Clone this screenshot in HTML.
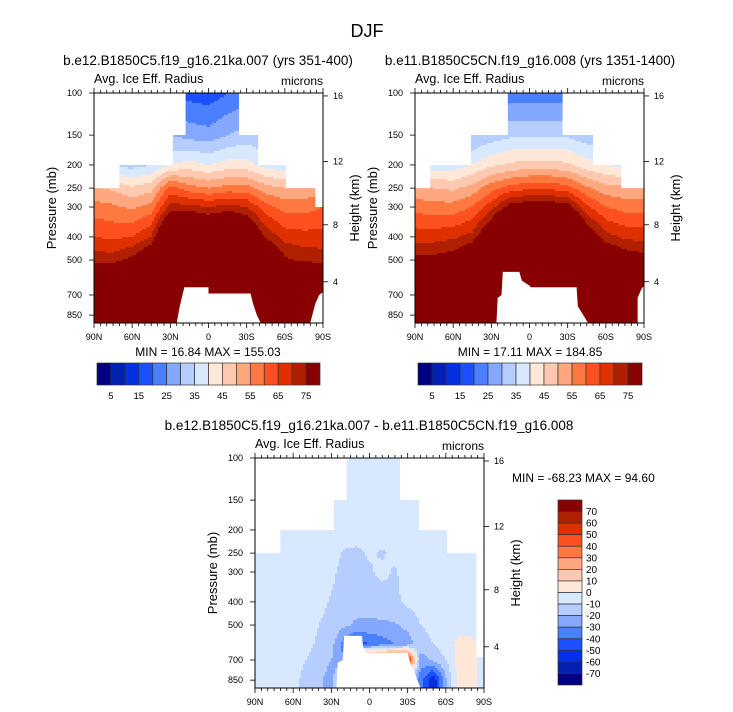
<!DOCTYPE html>
<html><head><meta charset="utf-8">
<style>
html,body{margin:0;padding:0;background:#fff;}
svg{display:block;font-family:"Liberation Sans",Arial,sans-serif;}
</style></head>
<body>
<svg id="fig" width="733" height="712" viewBox="0 0 733 712">
<text x="367" y="37" font-size="18" text-anchor="middle">DJF</text>
</svg>
<script>
// ---------- data ----------
const colors=["#000080","#0020b0","#0030e0","#1a50ff","#4a80ff","#85a8ff","#b5cdff","#d8e8ff","#ffe8d8","#ffc8b0","#ffa880","#ff7840","#ff5020","#e03000","#b02000","#880000"];
const boundsAbs=[5,10,15,20,25,30,35,40,45,50,55,60,65,70,75];
const boundsDiff=[-70,-60,-50,-40,-30,-20,-10,0,10,20,30,40,50,60,70];
const absTickLabels=["5","15","25","35","45","55","65","75"];
const diffTickLabels=["70","60","50","40","30","20","10","0","-10","-20","-30","-40","-50","-60","-70"];
const latTickLabels=["90N","60N","30N","0","30S","60S","90S"];
const latTicks=[90,60,30,0,-30,-60,-90];
const pTicks=[100,150,200,250,300,400,500,700,850];
const hTicks=[4,8,12,16];

const lats15=[90,75,60,45,30,15,0,-15,-30,-45,-60,-75,-90];
const levels1=[100,150,200,250,300,400,500,700,850];
const vals1=[
[18,26,35,51,57,65,73,100,120],
[18,26,34,49,56,64,73,100,120],
[18,26,33,46,54,65,77,110,120],
[18,28,35,48,57,70,85,120,130],
[20,30,40,62,72,95,120,130,130],
[18,28,42,57,72,95,120,130,130],
[17,27,40,55,70,90,120,130,130],
[20,30,42,57,72,95,120,130,130],
[22,32,42,57,70,88,110,130,130],
[20,30,38,52,62,74,90,120,130],
[18,28,36,50,58,68,76,110,120],
[18,28,36,51,58,67,74,100,120],
[18,28,36,52,60,67,73,100,120]];
const vals2=[
[18,28,38,51,58,68,77,110,120],
[18,28,37,50,57,68,77,110,120],
[18,28,37,49,57,69,79,110,120],
[18,30,40,52,60,72,85,120,130],
[20,32,44,58,68,85,110,130,130],
[22,34,46,62,78,110,130,130,130],
[22,34,47,64,80,115,130,130,130],
[22,34,47,64,80,115,130,130,130],
[22,34,46,62,78,105,130,130,130],
[20,32,42,56,66,82,100,130,130],
[20,30,40,52,60,72,85,120,130],
[20,30,38,51,58,69,80,115,120],
[20,30,38,51,58,68,78,110,120]];
const lats10=[90,80,70,60,50,40,30,20,10,0,-10,-20,-30,-40,-50,-60,-70,-80,-90];
const levels3=[100,150,200,250,300,400,500,600,700,850];
const vals3=[
[-5,-5,-5,-5,-5,-5,-5,-5,-5,-5],
[-5,-5,-5,-5,-5,-5,-5,-5,-5,-5],
[-5,-5,-5,-5,-5,-5,-5,-5,-5,-5],
[-5,-5,-5,-5,-5,-5,-5,-6,-7,-8],
[-5,-5,-5,-5,-5,-5,-7,-8,-10,-12],
[-5,-5,-5,-5,-6,-7,-10,-11,-14,-18],
[-5,-5,-5,-6,-8,-11,-13,-16,-20,-25],
[-5,-5,-5,-11,-13,-14,-18,-35,-30,3],
[-5,-5,-5,-12,-13,-15,-22,-45,60,-5],
[-5,-5,-5,-9,-11,-15,-22,-40,65,-5],
[-5,-5,-5,-11,-8,-14,-22,-35,65,-5],
[-5,-5,-5,-8,-11,-12,-21,-30,65,-5],
[-5,-5,-5,-5,-6,-8,-17,-25,60,-20],
[-5,-5,-5,-5,-5,-6,-10,-15,-25,-35],
[-5,-5,-5,-5,-5,-5,-7,-10,-18,-60],
[-5,-5,-5,-5,-5,-5,-5,-5,-10,-22],
[-5,-5,-5,-5,-5,-5,-5,3,4,4],
[-5,-5,-5,-5,-5,-5,-5,3,4,3],
[-5,-5,-5,-5,-5,-5,-5,-5,-5,-5]];
const mask1Edges=[90,70,28,18,-24,-39,-61,-84,-90], mask1Top=[250,200,150,100,150,200,250,300];
const mask2Edges=[90,78,46,17,-26,-50,-72,-90], mask2Top=[250,200,150,100,150,200,250];
const mask3Edges=[90,70,28,18,-24,-39,-61,-84,-90], mask3Top=[250,200,150,100,150,200,250,680];
const hole1Lat=[25,23,21,19,0,0,-33,-35,-38,-41], hole1P=[916,800,720,650,650,690,690,760,850,916];
const hole1bLat=[-80,-84,-87,-90,-90], hole1bP=[916,760,700,680,916];
const hole2Lat=[26,25,22,21,8,6,0,-1,-37,-38,-44,-46], hole2P=[916,720,700,560,560,610,640,650,650,780,880,916];
const hole2bLat=[-85,-85,-88,-90,-90], hole2bP=[916,720,660,640,916];
const hole3Lat=[26,25,21,20,6,5,3,-30,-32,-36,-40], hole3P=[916,720,700,555,555,620,652,652,720,800,916];

// ---------- drawing ----------
const NS="http://www.w3.org/2000/svg";
const svg=document.getElementById('fig');
function mk(tag,attrs,parent){const e=document.createElementNS(NS,tag);for(const k in attrs)e.setAttribute(k,attrs[k]);(parent||svg).appendChild(e);return e;}
function stdP(zkm){const z=zkm*1000;return z<=11000?1013.25*Math.pow(1-2.25577e-5*z,5.25588):226.32*Math.exp(-(z-11000)/6341.6);}
function colorIdx(v,b){let i=0;while(i<b.length&&v>=b[i])i++;return i;}
function lookup(lats,levels,vals,lat,lp){
  let i=0;while(i<lats.length-2&&lat<lats[i+1])i++;
  let tx=(lats[i]-lat)/(lats[i]-lats[i+1]);tx=Math.max(0,Math.min(1,tx));
  const ll=levels.map(Math.log10);
  let j=0;while(j<ll.length-2&&lp>ll[j+1])j++;
  let ty=(lp-ll[j])/(ll[j+1]-ll[j]);ty=Math.max(0,Math.min(1,ty));
  const a=vals[i][j],b=vals[i][j+1],c=vals[i+1][j],d=vals[i+1][j+1];
  return (a*(1-ty)+b*ty)*(1-tx)+(c*(1-ty)+d*ty)*tx;
}
let clipN=0;
function panel(c){
  const W=229,H=230,S=239;
  const X=lat=>c.x0+(90-lat)/180*W;
  const Y=p=>c.y0+(Math.log10(p)-2)*S;
  const g=mk('g',{});
  
  
  const id='clip'+(clipN++);
  const cp=mk('clipPath',{id:id},g);
  let pts=[[X(90),Y(916)]];
  for(let k=0;k<c.maskTop.length;k++){pts.push([X(c.maskEdges[k]),Y(c.maskTop[k])]);pts.push([X(c.maskEdges[k+1]),Y(c.maskTop[k])]);}
  pts.push([X(-90),Y(916)]);
  mk('polygon',{points:pts.map(p=>p.join(',')).join(' ')},cp);
  const fg=mk('g',{'clip-path':'url(#'+id+')'},g);
  
  
  const step=2;
  function flush(x1,x2,yy,idx){
    const r=mk('rect',{x:c.x0+x1,y:c.y0+yy,width:x2-x1+0.6,height:step+0.6,fill:colors[idx]},fg);
    
    
  }
  for(let yy=0;yy<H;yy+=step){
    const lp=2+(yy+step/2)/S;
    let runStart=0,runIdx=-1;
    for(let xx=0;xx<W;xx+=step){
      const lat=90-Math.min(xx+step/2,W)/W*180;
      const idx=colorIdx(lookup(c.lats,c.levels,c.vals,lat,lp),c.bounds);
      if(idx!==runIdx){
        if(runIdx>=0) flush(runStart,xx,yy,runIdx);
        runStart=xx;runIdx=idx;
      }
    }
    flush(runStart,W,yy,runIdx);
  }
  c.holes.forEach(h=>{
    const hp=mk('polygon',{points:h[0].map((la,k)=>X(la)+','+Y(h[1][k])).join(' '),fill:'#fff'},g);
    
    
  });
  const fr=mk('rect',{x:c.x0,y:c.y0,width:W,height:H,fill:'none',stroke:'#000','stroke-width':1},g);
  
  
  for(let la=90;la>=-90;la-=5){
    const major=la%30===0, L=major?5:3, x=X(la);
    mk('line',{x1:x,x2:x,y1:c.y0+H,y2:c.y0+H+L,stroke:'#000','stroke-width':0.8},g);
    mk('line',{x1:x,x2:x,y1:c.y0,y2:c.y0-L,stroke:'#000','stroke-width':0.8},g);
  }
  latTicks.forEach((la,k)=>{const t=mk('text',{x:X(la),y:c.y0+H+17,'font-size':9,'text-anchor':'middle'},g);t.textContent=latTickLabels[k];
    });
  pTicks.forEach(p=>{const y=Y(p);mk('line',{x1:c.x0-5,x2:c.x0,y1:y,y2:y,stroke:'#000','stroke-width':0.8},g);
    const t=mk('text',{x:c.x0-12,y:y+3,'font-size':9,'text-anchor':'end'},g);t.textContent=p;
    });
  hTicks.forEach(h=>{const y=Y(stdP(h));mk('line',{x1:c.x0+W,x2:c.x0+W+5,y1:y,y2:y,stroke:'#000','stroke-width':0.8},g);
    const t=mk('text',{x:c.x0+W+10,y:y+3,'font-size':9},g);t.textContent=h;
    });
  const py=c.y0+H/2;
  let t=mk('text',{x:c.x0-38,y:py,'font-size':13,'text-anchor':'middle',transform:'rotate(-90 '+(c.x0-38)+' '+py+')'},g);t.textContent='Pressure (mb)';
  
  t=mk('text',{x:c.x0+W+36,y:py,'font-size':13,'text-anchor':'middle',transform:'rotate(-90 '+(c.x0+W+36)+' '+py+')'},g);t.textContent='Height (km)';
  
  t=mk('text',{x:c.x0,y:c.y0-10,'font-size':12.5},g);t.textContent='Avg. Ice Eff. Radius';
  
  t=mk('text',{x:c.x0+W,y:c.y0-8,'font-size':12,'text-anchor':'end'},g);t.textContent='microns';
  
  t=mk('text',{x:c.titleX,y:c.y0-28,'font-size':13.5,'text-anchor':'middle'},g);t.textContent=c.title;
  
  if(c.minmaxX){t=mk('text',{x:c.minmaxX,y:c.minmaxY,'font-size':12,'text-anchor':c.minmaxAnchor,'xml:space':'preserve'},g);t.textContent=c.minmax;
    }
}
function hbar(x0,y0,w,h){
  const g=mk('g',{});
  
  
  const bw=w/colors.length;
  colors.forEach((c,k)=>{const r=mk('rect',{x:x0+k*bw,y:y0,width:bw,height:h,fill:c,stroke:'#333','stroke-width':0.7},g);
    });
  absTickLabels.forEach((s,k)=>{const t=mk('text',{x:x0+(1+2*k)*bw,y:y0+h+14,'font-size':9.5,'text-anchor':'middle'},g);t.textContent=s;
    });
}
function vbar(x0,y0,w,h){
  const g=mk('g',{});
  
  
  const bh=h/colors.length;
  colors.slice().reverse().forEach((c,k)=>{const r=mk('rect',{x:x0,y:y0+k*bh,width:w,height:bh,fill:c,stroke:'#333','stroke-width':0.7},g);
    });
  diffTickLabels.forEach((s,k)=>{const t=mk('text',{x:x0+w+4,y:y0+(k+1)*bh+3.5,'font-size':10},g);t.textContent=s;
    });
}
panel({name:'panel-21ka',x0:94,y0:93,lats:lats15,levels:levels1,vals:vals1,bounds:boundsAbs,maskEdges:mask1Edges,maskTop:mask1Top,
  holes:[[hole1Lat,hole1P],[hole1bLat,hole1bP]],title:'b.e12.B1850C5.f19_g16.21ka.007 (yrs 351-400)',titleX:208,
  minmax:'MIN =  16.84  MAX = 155.03',minmaxX:208,minmaxY:356,minmaxAnchor:'middle'});
panel({name:'panel-preindustrial',x0:415,y0:93,lats:lats15,levels:levels1,vals:vals2,bounds:boundsAbs,maskEdges:mask2Edges,maskTop:mask2Top,
  holes:[[hole2Lat,hole2P],[hole2bLat,hole2bP]],title:'b.e11.B1850C5CN.f19_g16.008 (yrs 1351-1400)',titleX:530,
  minmax:'MIN =  17.11  MAX = 184.85',minmaxX:530,minmaxY:356,minmaxAnchor:'middle'});
panel({name:'panel-difference',x0:255,y0:458,lats:lats10,levels:levels3,vals:vals3,bounds:boundsDiff,maskEdges:mask3Edges,maskTop:mask3Top,
  holes:[[hole3Lat,hole3P]],title:'b.e12.B1850C5.f19_g16.21ka.007 - b.e11.B1850C5CN.f19_g16.008',titleX:369,
  minmax:'MIN = -68.23  MAX = 94.60',minmaxX:512,minmaxY:482,minmaxAnchor:'start'});
hbar(97,363,223,22);
hbar(418,363,224,22);
vbar(558,500,24,185);
</script>
</body></html>
